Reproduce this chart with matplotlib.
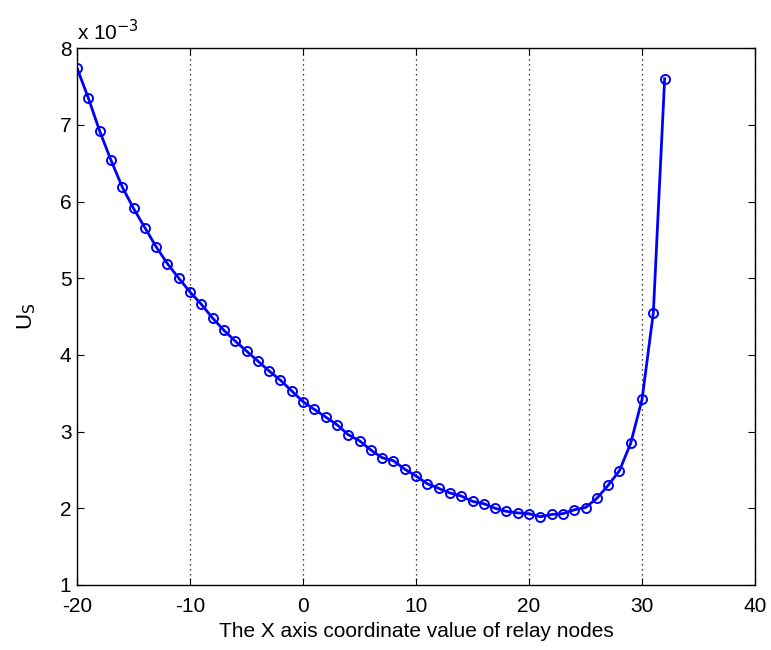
import matplotlib
matplotlib.use('Agg')
from matplotlib import pyplot as plt
import numpy as np

plt.rcParams['font.family'] = ['Liberation Sans', 'DejaVu Sans']
plt.rcParams['axes.unicode_minus'] = False

# relay node x coordinate and U_S (in units of 1e-3)
x_coord = list(range(-20, 33))
u_s = [7.74, 7.35, 6.92, 6.54, 6.19, 5.91, 5.66, 5.41, 5.19, 5.00,
       4.82, 4.66, 4.48, 4.32, 4.18, 4.05, 3.92, 3.79, 3.67, 3.53,
       3.39, 3.29, 3.19, 3.09, 2.96, 2.88, 2.76, 2.66, 2.62, 2.51,
       2.42, 2.32, 2.26, 2.20, 2.16, 2.09, 2.06, 2.00, 1.96, 1.94,
       1.93, 1.89, 1.92, 1.93, 1.98, 2.01, 2.13, 2.30, 2.49, 2.85,
       3.42, 4.55, 7.60]
x_ticks = [-20, -10, 0, 10, 20, 30, 40]
y_ticks = [1, 2, 3, 4, 5, 6, 7, 8]

fig = plt.figure(figsize=(7.71, 6.5), dpi=100, facecolor='w')
ax = fig.add_axes([0.0999, 0.1, 0.8794, 0.826])

ax.plot(x_coord, u_s, '-o', color='#0000ff', lw=2, ms=6.5, mfc='none', mew=1.4)

ax.set_xlim(-20, 40)
ax.set_ylim(1, 8)
ax.set_xticks(x_ticks)
ax.set_yticks(y_ticks)
ax.xaxis.grid(True, linestyle=(0, (1, 3)), color='k', lw=0.9)
ax.tick_params(direction='in', top=True, right=True, labelsize=15, length=5, width=0.8)
ax.tick_params(axis='x', pad=9)
ax.tick_params(axis='y', pad=4)
for s in ax.spines.values():
    s.set_linewidth(1.0)

ax.text(0, 1.008, r'x 10$^{-3}$', transform=ax.transAxes, fontsize=15, ha='left', va='bottom')
ax.set_xlabel('The X axis coordinate value of relay nodes', fontsize=15, labelpad=4)
ax.set_ylabel(r'U$_{\mathrm{S}}$', fontsize=16, labelpad=16)

fig.savefig('out.png', dpi=100)
